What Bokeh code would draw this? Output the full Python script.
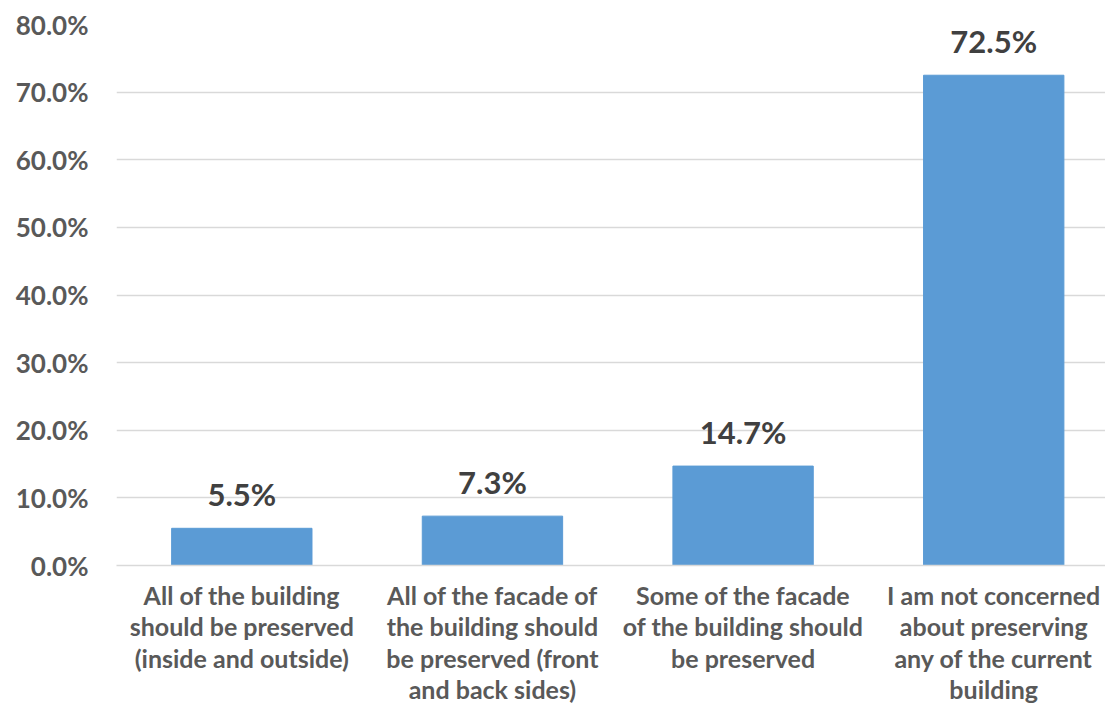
from bokeh.plotting import figure
from bokeh.models import FixedTicker, NumeralTickFormatter, Range1d, ColumnDataSource
from bokeh.core.properties import value
from bokeh.embed import file_html
from bokeh.resources import INLINE

categories = [
    "All of the building\nshould be preserved\n(inside and outside)",
    "All of the facade of\nthe building should\nbe preserved (front\nand back sides)",
    "Some of the facade\nof the building should\nbe preserved",
    "I am not concerned\nabout preserving\nany of the current\nbuilding",
]
values = [0.055, 0.073, 0.147, 0.725]
value_labels = ["5.5%", "7.3%", "14.7%", "72.5%"]
y_ticks = [0.0, 0.1, 0.2, 0.3, 0.4, 0.5, 0.6, 0.7, 0.8]

FONT = "Lato"
positions = [i + 1 for i in range(len(categories))]
src = ColumnDataSource(dict(x=positions, top=values, lab=value_labels))

p = figure(width=1105, height=708, output_backend="svg", toolbar_location=None,
           x_range=Range1d(0.5, 4.446), y_range=Range1d(0, 0.8),
           min_border_left=116, min_border_right=0, min_border_top=24, min_border_bottom=143)
p.outline_line_color = None
p.background_fill_color = "white"
p.border_fill_color = "white"

p.vbar(x="x", top="top", width=0.56, bottom=0, source=src, color="#5B9BD5")
p.text(x="x", y="top", text="lab", source=src, text_align="center", text_baseline="alphabetic",
       y_offset=-34, text_font_size="31px", text_font_style="bold", text_color="#404040",
       text_font=value(FONT))

p.xgrid.grid_line_color = None
p.ygrid.grid_line_color = "#D9D9D9"
p.ygrid.grid_line_width = 1.5
p.yaxis.ticker = FixedTicker(ticks=y_ticks)
p.yaxis.formatter = NumeralTickFormatter(format="0.0%")
p.yaxis.axis_line_color = None
p.yaxis.major_tick_line_color = None
p.yaxis.minor_tick_line_color = None
p.yaxis.major_label_text_font = FONT
p.yaxis.major_label_text_font_style = "bold"
p.yaxis.major_label_text_font_size = "26px"
p.yaxis.major_label_text_color = "#595959"
p.yaxis.major_label_standoff = 22

p.xaxis.ticker = FixedTicker(ticks=positions)
p.xaxis.major_label_overrides = {pos: lab for pos, lab in zip(positions, categories)}
p.xaxis.axis_line_color = "#D9D9D9"
p.xaxis.axis_line_width = 1.5
p.xaxis.major_tick_line_color = None
p.xaxis.minor_tick_line_color = None
p.xaxis.major_label_text_font = FONT
p.xaxis.major_label_text_font_style = "bold"
p.xaxis.major_label_text_font_size = "25px"
p.xaxis.major_label_text_line_height = 1.05
p.xaxis.major_label_text_color = "#595959"
p.xaxis.major_label_standoff = 8

open("out.html", "w").write(file_html(p, INLINE))
